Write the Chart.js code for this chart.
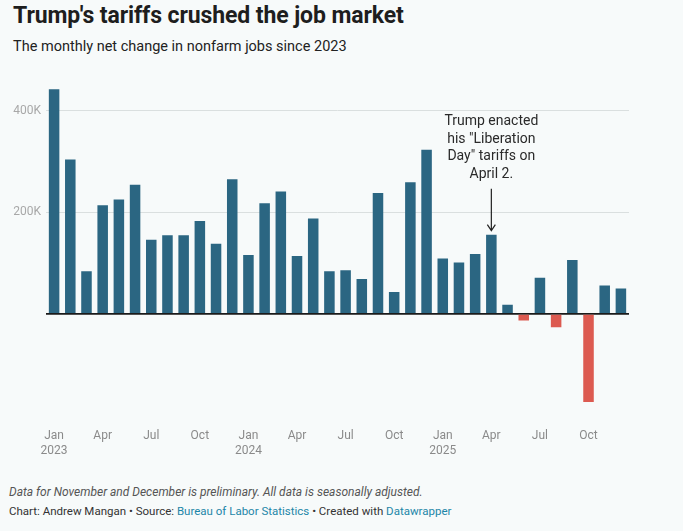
<!DOCTYPE html>
<html>
<head>
<meta charset="utf-8">
<script src="https://cdn.jsdelivr.net/npm/chart.js@4"></script>
<style>
  html, body { margin: 0; padding: 0; background: #f7fafa; }
  body { width: 683px; height: 531px; position: relative; overflow: hidden; font-family: Roboto, "Noto Sans", sans-serif; }
  #title { position: absolute; left: 13px; top: 2px; font-size: 23px; font-weight: 700; color: #1e1e1e; letter-spacing: -0.1px; }
  #subtitle { position: absolute; left: 13px; top: 38px; font-size: 14.5px; color: #222; }
  #wrap { position: absolute; left: 0; top: 73px; width: 683px; height: 392px; }
  #note { position: absolute; left: 9px; top: 485px; font-size: 12px; font-style: italic; color: #555; }
  #credit { position: absolute; left: 9px; top: 504px; font-size: 11.5px; color: #333; }
  #credit span { color: #1d86a8; }
</style>
</head>
<body>
<div id="title">Trump's tariffs crushed the job market</div>
<div id="subtitle">The monthly net change in nonfarm jobs since 2023</div>
<div id="wrap"><canvas id="chart"></canvas></div>
<div id="note">Data for November and December is preliminary. All data is seasonally adjusted.</div>
<div id="credit">Chart: Andrew Mangan • Source: <span>Bureau of Labor Statistics</span> • Created with <span>Datawrapper</span></div>
<script>
// Months shown on the chart
const months = [
    "Jan 2023", "Feb 2023", "Mar 2023", "Apr 2023", "May 2023", "Jun 2023",
    "Jul 2023", "Aug 2023", "Sep 2023", "Oct 2023", "Nov 2023", "Dec 2023",
    "Jan 2024", "Feb 2024", "Mar 2024", "Apr 2024", "May 2024", "Jun 2024",
    "Jul 2024", "Aug 2024", "Sep 2024", "Oct 2024", "Nov 2024", "Dec 2024",
    "Jan 2025", "Feb 2025", "Mar 2025", "Apr 2025", "May 2025", "Jun 2025",
    "Jul 2025", "Aug 2025", "Sep 2025", "Oct 2025", "Nov 2025", "Dec 2025",
];

// Net change in jobs, thousands
const jobChange = [
    442, 304, 84, 214, 225, 254, 146, 155, 155, 183, 138, 265,
    116, 218, 241, 114, 188, 84, 86, 69, 238, 43, 259, 323,
    109, 101, 118, 156, 18, -13, 71, -26, 106, -173, 56, 50,
];

// Tick labels on the x axis (blank = no label)
const xTickLabels = {
    "Jan 2023": ["Jan", "2023"], "Apr 2023": "Apr", "Jul 2023": "Jul", "Oct 2023": "Oct",
    "Jan 2024": ["Jan", "2024"], "Apr 2024": "Apr", "Jul 2024": "Jul", "Oct 2024": "Oct",
    "Jan 2025": ["Jan", "2025"], "Apr 2025": "Apr", "Jul 2025": "Jul", "Oct 2025": "Oct",
};

// Gridlines on the y axis
const yTicks = [0, 200, 400];

// Annotation
const noteMonth = "Apr 2025";
const noteLines = ["Trump enacted", "his \"Liberation", "Day\" tariffs on", "April 2."];

const barColors = jobChange.map(v => v < 0 ? "#dc5a50" : "#2b6682");

// Draws the text and arrow pointing at the April 2025 bar
const annotationPlugin = {
    id: "annotation",
    afterDatasetsDraw(chart) {
        const ctx = chart.ctx;
        const i = months.indexOf(noteMonth);
        const x = chart.scales.x.getPixelForValue(i);
        const yEnd = chart.scales.y.getPixelForValue(jobChange[i]) - 4;
        const yStart = yEnd - 42;
        ctx.save();
        ctx.strokeStyle = "#222";
        ctx.lineWidth = 1.2;
        ctx.beginPath();
        ctx.moveTo(x, yStart);
        ctx.lineTo(x, yEnd);
        ctx.moveTo(x - 4, yEnd - 6);
        ctx.lineTo(x, yEnd);
        ctx.lineTo(x + 4, yEnd - 6);
        ctx.stroke();
        ctx.fillStyle = "#2a2a2a";
        ctx.font = "14px Roboto";
        ctx.textAlign = "center";
        ctx.textBaseline = "middle";
        const lh = 17.7;
        noteLines.forEach((t, k) => {
            ctx.fillText(t, x, yStart - 14 - (noteLines.length - 1 - k) * lh);
        });
        ctx.restore();
    },
};

new Chart(document.getElementById("chart"), {
    type: "bar",
    plugins: [annotationPlugin],
    data: {
        labels: months,
        datasets: [{
            data: jobChange,
            backgroundColor: barColors,
            categoryPercentage: 1,
            barPercentage: 0.65,
        }],
    },
    options: {
        responsive: true,
        maintainAspectRatio: false,
        animation: false,
        layout: { padding: { top: 5, right: 54, left: 0, bottom: 0 } },
        plugins: { legend: { display: false }, tooltip: { enabled: false } },
        scales: {
            x: {
                grid: { display: false, drawTicks: false },
                border: { display: false },
                ticks: {
                    autoSkip: false,
                    maxRotation: 0,
                    padding: 20,
                    color: "#8a8a8a",
                    font: { family: "Roboto", size: 12, lineHeight: 1.25 },
                    callback: (v, i) => xTickLabels[months[i]] || "",
                },
                afterFit: (s) => { s.height = 57; },
            },
            y: {
                min: -185,
                max: 450,
                afterBuildTicks: (s) => { s.ticks = yTicks.map(v => ({ value: v })); },
                grid: {
                    color: (c) => c.tick && c.tick.value === 0 ? "#1a1a1a" : "#dadfdf",
                    lineWidth: (c) => c.tick && c.tick.value === 0 ? 1.8 : 1,
                    drawTicks: false,
                },
                border: { display: false },
                ticks: {
                    padding: 5,
                    color: "#a8a8a8",
                    font: { family: "Roboto", size: 12 },
                    callback: (v) => v === 0 ? "" : v + "K",
                },
                afterFit: (s) => { s.width = 46; },
            },
        },
    },
});
</script>
</body>
</html>
